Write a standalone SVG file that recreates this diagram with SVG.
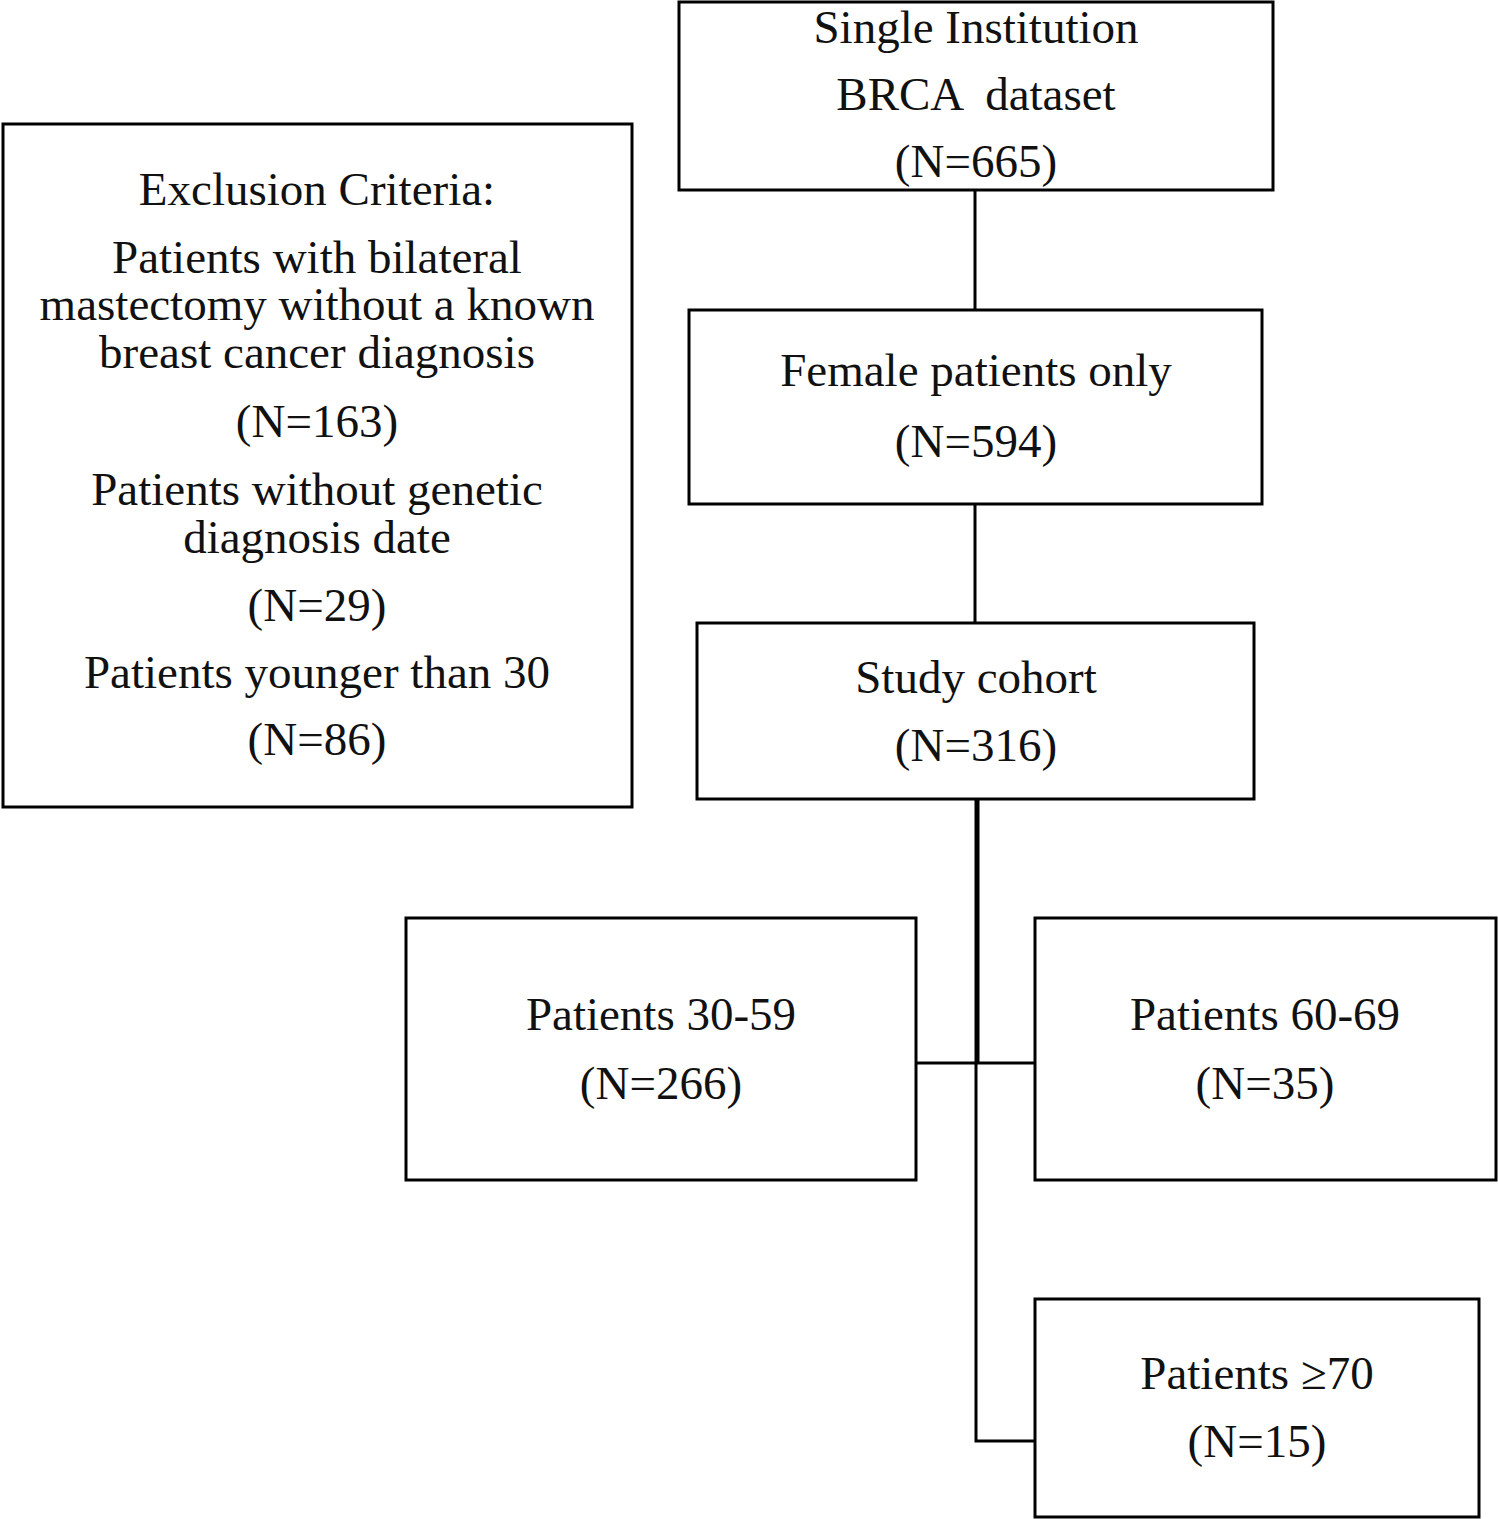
<svg xmlns="http://www.w3.org/2000/svg" width="1498" height="1519" viewBox="0 0 1498 1519">
<style>
.box{fill:#fff;stroke:#000;stroke-width:3}
.t{font-family:"Liberation Serif","Times New Roman",serif;font-size:47px;fill:#111;text-anchor:middle}
.c{stroke:#000;stroke-width:3;fill:none}
</style>
<rect width="1498" height="1519" fill="#fff"/>
<g id="connectors">
<line class="c" x1="975" y1="190" x2="975" y2="310"/>
<line class="c" x1="975" y1="504" x2="975" y2="623"/>
<line x1="977" y1="799" x2="977" y2="1063" stroke="#000" stroke-width="5"/>
<polyline class="c" points="976,1063 976,1441 1035,1441"/>
<line class="c" x1="916" y1="1063" x2="1035" y2="1063"/>
</g>
<g id="exclusion">
<rect class="box" x="3" y="124" width="629" height="683"/>
<text class="t" x="317" y="205">Exclusion Criteria:</text>
<text class="t" x="317" y="273">Patients with bilateral</text>
<text class="t" x="317" y="320">mastectomy without a known</text>
<text class="t" x="317" y="368">breast cancer diagnosis</text>
<text class="t" x="317" y="437">(N=163)</text>
<text class="t" x="317" y="505">Patients without genetic</text>
<text class="t" x="317" y="553">diagnosis date</text>
<text class="t" x="317" y="621">(N=29)</text>
<text class="t" x="317" y="688">Patients younger than 30</text>
<text class="t" x="317" y="755">(N=86)</text>
</g>
<g id="dataset">
<rect class="box" x="679" y="2" width="594" height="188"/>
<text class="t" x="976" y="43">Single Institution</text>
<text class="t" x="976" y="110" xml:space="preserve">BRCA  dataset</text>
<text class="t" x="976" y="177">(N=665)</text>
</g>
<g id="female">
<rect class="box" x="689" y="310" width="573" height="194"/>
<text class="t" x="976" y="386">Female patients only</text>
<text class="t" x="976" y="457">(N=594)</text>
</g>
<g id="study">
<rect class="box" x="697" y="623" width="557" height="176"/>
<text class="t" x="976" y="693">Study cohort</text>
<text class="t" x="976" y="761">(N=316)</text>
</g>
<g id="age30">
<rect class="box" x="406" y="918" width="510" height="262"/>
<text class="t" x="661" y="1030">Patients 30-59</text>
<text class="t" x="661" y="1099">(N=266)</text>
</g>
<g id="age60">
<rect class="box" x="1035" y="918" width="461" height="262"/>
<text class="t" x="1265" y="1030">Patients 60-69</text>
<text class="t" x="1265" y="1099">(N=35)</text>
</g>
<g id="age70">
<rect class="box" x="1035" y="1299" width="444" height="218"/>
<text class="t" x="1257" y="1389">Patients ≥70</text>
<text class="t" x="1257" y="1457">(N=15)</text>
</g>
</svg>
